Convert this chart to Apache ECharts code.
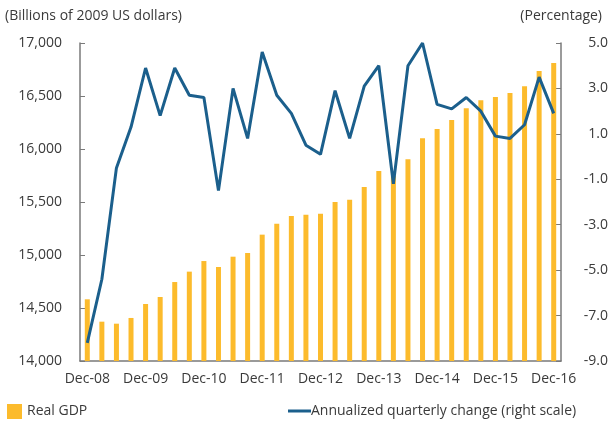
<!DOCTYPE html>
<html>
<head>
<meta charset="utf-8">
<script src="https://cdn.jsdelivr.net/npm/echarts@6/dist/echarts.min.js"></script>
<style>
  html, body { margin: 0; padding: 0; background: #fff; }
  #chart { width: 613px; height: 424px; }
</style>
</head>
<body>
<div id="chart"></div>
<script>
  // quarterly, Dec-08 .. Dec-16
  const quarters = ['Dec-08', 'Mar-09', 'Jun-09', 'Sep-09', 'Dec-09', 'Mar-10', 'Jun-10', 'Sep-10',
    'Dec-10', 'Mar-11', 'Jun-11', 'Sep-11', 'Dec-11', 'Mar-12', 'Jun-12', 'Sep-12',
    'Dec-12', 'Mar-13', 'Jun-13', 'Sep-13', 'Dec-13', 'Mar-14', 'Jun-14', 'Sep-14',
    'Dec-14', 'Mar-15', 'Jun-15', 'Sep-15', 'Dec-15', 'Mar-16', 'Jun-16', 'Sep-16', 'Dec-16'];
  const realGdp = [14582, 14371, 14352, 14406, 14538, 14604, 14745, 14843,
    14943, 14887, 14984, 15019, 15192, 15295, 15368, 15380,
    15390, 15500, 15522, 15642, 15792, 15745, 15903, 16101,
    16189, 16274, 16384, 16459, 16491, 16528, 16592, 16736, 16811];
  const quarterlyChange = [-8.2, -5.4, -0.5, 1.3, 3.9, 1.8, 3.9, 2.7,
    2.6, -1.5, 3.0, 0.8, 4.6, 2.7, 1.9, 0.5,
    0.1, 2.9, 0.8, 3.1, 4.0, -1.2, 4.0, 5.0,
    2.3, 2.1, 2.6, 2.0, 0.9, 0.8, 1.4, 3.5, 1.9];

  const textColor = '#3a3a3a';
  const font = 'Open Sans';
  const axisColor = '#7a7a7a';

  let chart = echarts.init(document.getElementById('chart'));
  let option = {
    animation: false,
    textStyle: { fontFamily: font, color: textColor },
    title: [
      { text: '(Billions of 2009 US dollars)', left: 0, top: 4,
        textStyle: { fontFamily: font, fontSize: 14, fontWeight: 'normal', color: textColor } },
      { text: '(Percentage)', right: 6, top: 4,
        textStyle: { fontFamily: font, fontSize: 14, fontWeight: 'normal', color: textColor } }
    ],
    legend: [
      {
        data: ['Real GDP'],
        left: 2, top: 399,
        itemWidth: 15, itemHeight: 15,
        icon: 'rect',
        textStyle: { fontFamily: font, fontSize: 14, color: textColor }
      },
      {
        data: ['Annualized quarterly change (right scale)'],
        left: 283, top: 399,
        itemWidth: 23, itemHeight: 3,
        icon: 'rect',
        textStyle: { fontFamily: font, fontSize: 14, color: textColor, padding: [0, 0, 0, -5] }
      }
    ],
    grid: { left: 80, right: 52, top: 43, bottom: 63 },
    xAxis: {
      type: 'category',
      data: quarters,
      boundaryGap: true,
      axisLine: { onZero: false, lineStyle: { color: axisColor, width: 1.5 } },
      axisTick: { interval: 3, inside: true, length: 5, lineStyle: { color: axisColor } },
      axisLabel: { interval: 3, margin: 11, fontSize: 14, color: textColor, fontFamily: font },
      splitLine: { show: false }
    },
    yAxis: [
      {
        type: 'value',
        min: 14000, max: 17000, interval: 500,
        axisLine: { show: true, lineStyle: { color: axisColor, width: 1.5 } },
        axisTick: { show: true, inside: true, length: 5, lineStyle: { color: axisColor } },
        axisLabel: {
          margin: 18, fontSize: 14, color: textColor, fontFamily: font,
          formatter: v => v.toLocaleString('en-US')
        },
        splitLine: { show: false }
      },
      {
        type: 'value',
        min: -9, max: 5, interval: 2,
        position: 'right',
        axisLine: { show: true, lineStyle: { color: axisColor, width: 1.5 } },
        axisTick: { show: true, inside: true, length: 5, lineStyle: { color: axisColor } },
        axisLabel: {
          margin: 47, align: 'right', fontSize: 14, color: textColor, fontFamily: font,
          formatter: v => v.toFixed(1)
        },
        splitLine: { show: false }
      }
    ],
    series: [
      {
        name: 'Real GDP',
        type: 'bar',
        data: realGdp,
        barWidth: 5,
        itemStyle: { color: '#fcbb2c' }
      },
      {
        name: 'Annualized quarterly change (right scale)',
        type: 'line',
        yAxisIndex: 1,
        data: quarterlyChange,
        symbol: 'none',
        z: 3,
        lineStyle: { color: '#1b5f8c', width: 3 },
        itemStyle: { color: '#1b5f8c' }
      }
    ]
  };
  chart.setOption(option);
</script>
</body>
</html>
